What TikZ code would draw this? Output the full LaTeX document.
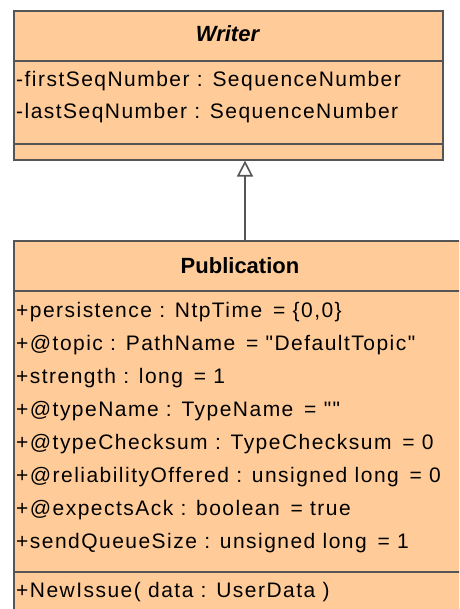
\documentclass[tikz,border=0pt]{standalone}
\usepackage{fontspec}
\setmainfont{Liberation Sans}
\newfontfamily\memberfont[LetterSpace=7]{Liberation Sans}
\usetikzlibrary{arrows.meta}
\definecolor{classfill}{HTML}{FFCC99}
\definecolor{classline}{HTML}{555555}

\begin{document}
\begin{tikzpicture}[x=1pt,y=-1pt,
  classbox/.style={draw=classline, fill=classfill, line width=1.6pt,
    inner sep=0pt, anchor=north west, rectangle},
  classtitle/.style={font=\fontsize{22}{26}\selectfont\bfseries, inner sep=0pt, anchor=base},
  member/.style={font=\memberfont\fontsize{21}{25}\selectfont, inner sep=0pt, anchor=base west},
  compartment/.style={draw=classline, line width=1.6pt},
  generalization/.style={draw=classline, line width=1.6pt,
    -{Triangle[open, width=16pt, length=16pt, line width=1.6pt]}}]
\useasboundingbox (0,0) rectangle (459,609);
\clip (0,0) rectangle (459,609);

% Writer class
\node[classbox, minimum width=429pt, minimum height=149pt] (writer) at (13,10) {};
\draw[compartment] (writer.west |- 0,61) -- (writer.east |- 0,61);
\draw[compartment] (writer.west |- 0,144) -- (writer.east |- 0,144);
\node[classtitle] (writertitle) at (227.5,42) {\itshape Writer};
\node[member] (w1) at (16,87) {-firstSeqNumber : SequenceNumber};
\node[member] (w2) at (16,119) {-lastSeqNumber : SequenceNumber};

% Publication class
\node[classbox, minimum width=454pt, minimum height=400pt] (pub) at (13,240) {};
\draw[compartment] (pub.west |- 0,291) -- (pub.east |- 0,291);
\draw[compartment] (pub.west |- 0,572) -- (pub.east |- 0,572);
\node[classtitle] (pubtitle) at (240,273) {Publication};
\node[member] (p1) at (16,317) {+persistence : NtpTime \,= \{0,0\}};
\node[member] (p2) at (16,350) {+@topic : PathName \,= "DefaultTopic"};
\node[member] (p3) at (16,383) {+strength : long \,= 1};
\node[member] (p4) at (16,416) {+@typeName : TypeName \,= ""};
\node[member] (p5) at (16,449) {+@typeChecksum : TypeChecksum \,= 0};
\node[member] (p6) at (16,482) {+@reliabilityOffered : unsigned long \,= 0};
\node[member] (p7) at (16,515) {+@expectsAck : boolean \,= true};
\node[member] (p8) at (16,548) {+sendQueueSize : unsigned long \,= 1};
\node[member] (m1) at (16,597) {+NewIssue( data : UserData )};

% Generalization: Publication -> Writer
\draw[generalization] (pub.north -| 245,0) -- (writer.south -| 245,0);
\end{tikzpicture}
\end{document}
